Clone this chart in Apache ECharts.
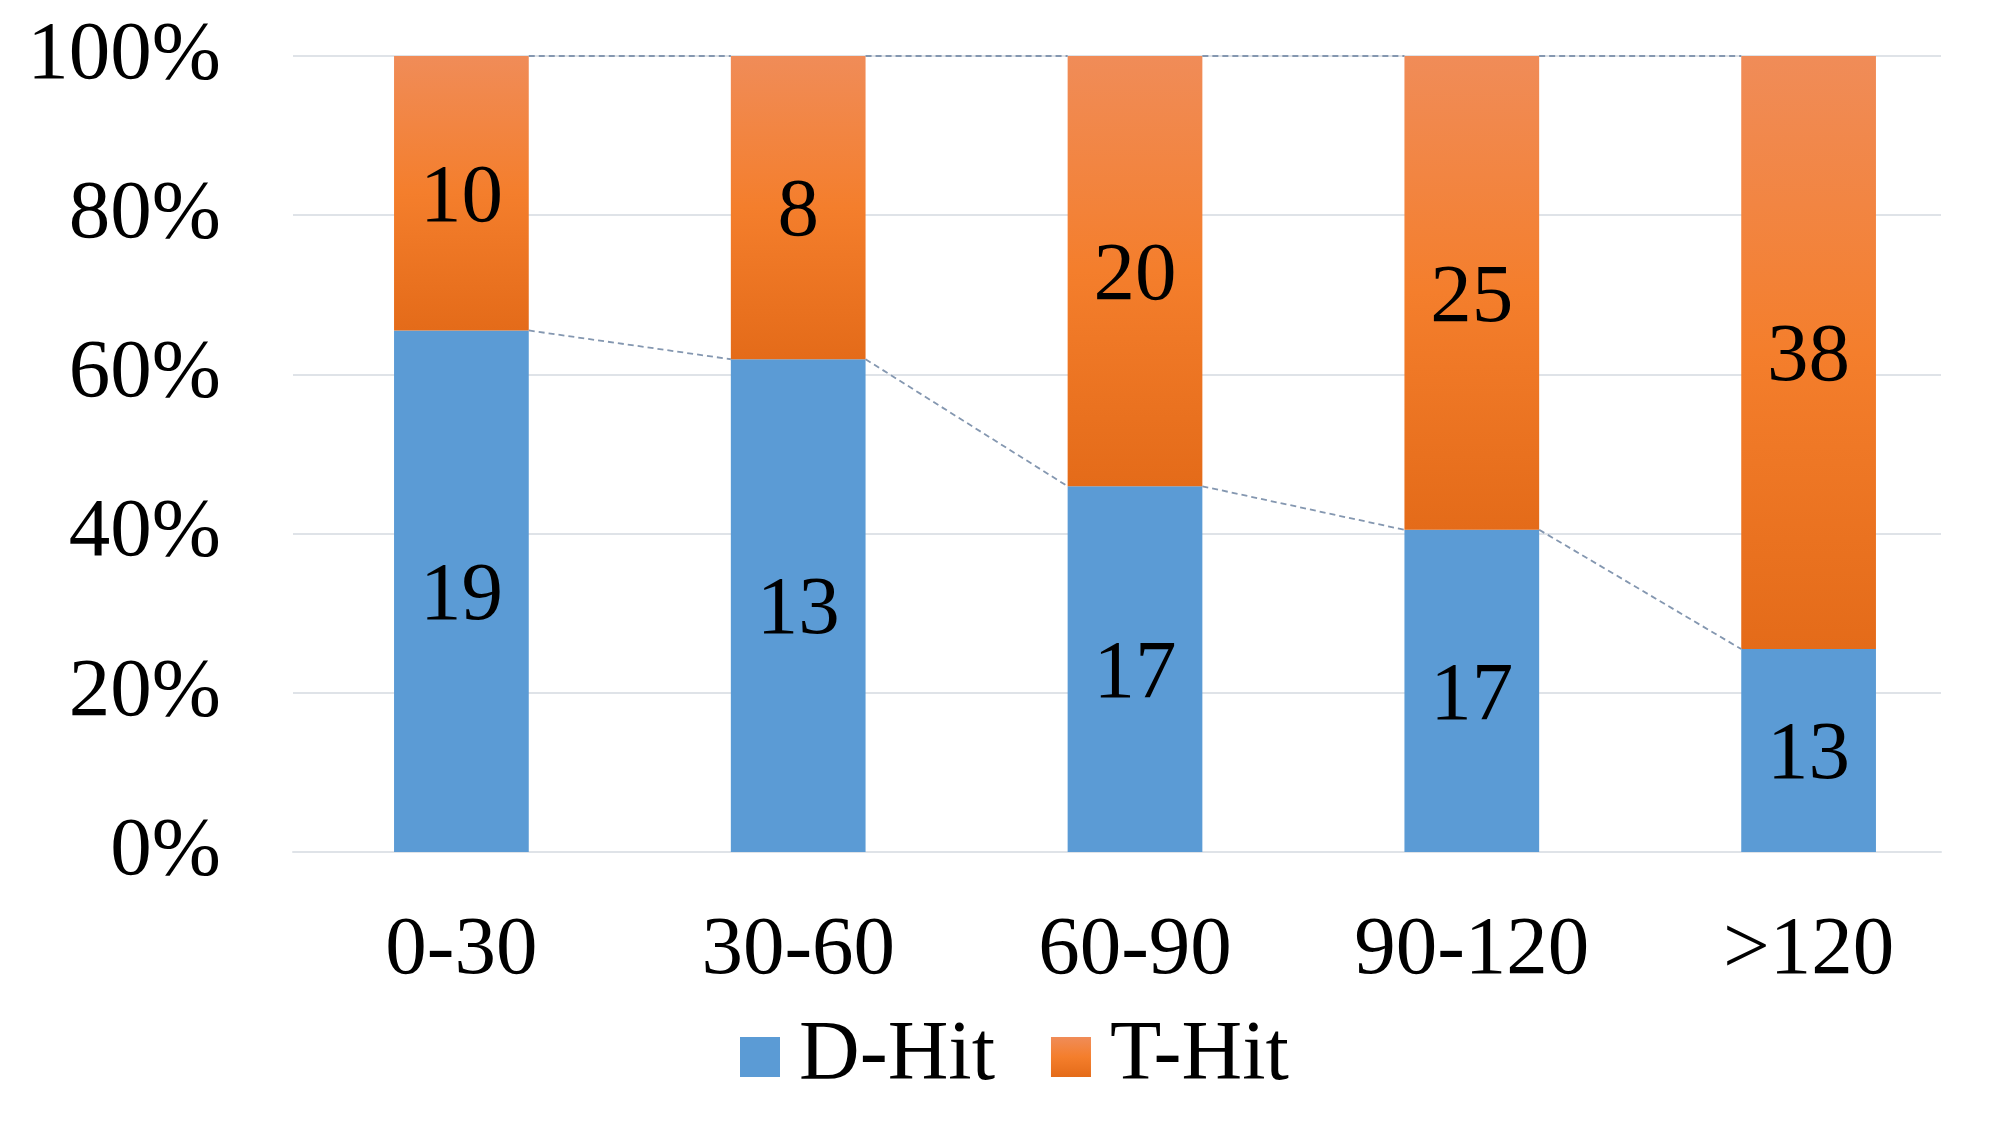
<!DOCTYPE html>
<html>
<head>
<meta charset="utf-8">
<script src="https://cdn.jsdelivr.net/npm/echarts@6/dist/echarts.min.js"></script>
<style>
  html, body { margin: 0; padding: 0; background: #fff; }
  #main { width: 2000px; height: 1125px; }
</style>
</head>
<body>
<div id="main"></div>
<script>
// 数据
const categories = ['0-30', '30-60', '60-90', '90-120', '>120'];
const dHit = [19, 13, 17, 17, 13];
const tHit = [10, 8, 20, 25, 38];
const yTicks = [0, 20, 40, 60, 80, 100];

const FONT = "'Liberation Serif', 'Times New Roman', serif";
const BAR_RATIO = 0.40;

// 百分比堆叠
const dPct = dHit.map((v, i) => v / (v + tHit[i]) * 100);
const tPct = tHit.map((v, i) => v / (dHit[i] + v) * 100);
const topPct = dPct.map((v, i) => v + tPct[i]);

// 连接线 [起点index, 起点值, 终点值]
const dLinks = [];
const tLinks = [];
for (let i = 0; i < categories.length - 1; i++) {
  dLinks.push([i, dPct[i], dPct[i + 1]]);
  tLinks.push([i, topPct[i], topPct[i + 1]]);
}

function linkRender(params, api) {
  const i = api.value(0);
  const half = api.size([1, 0])[0] * BAR_RATIO / 2;
  const p1 = api.coord([i, api.value(1)]);
  const p2 = api.coord([i + 1, api.value(2)]);
  return {
    type: 'line',
    shape: { x1: p1[0] + half, y1: p1[1], x2: p2[0] - half, y2: p2[1] },
    style: { stroke: '#8497b0', lineWidth: 1.8, lineDash: [6, 4] },
    silent: true
  };
}

const labelStyle = {
  show: true, position: 'inside', fontFamily: FONT, fontSize: 83, color: '#000', offset: [0, 6]
};

const chart = echarts.init(document.getElementById('main'));
const option = {
  animation: false,
  // grid 0: 网格线和坐标轴文字, grid 1: 柱子
  grid: [
    { left: 293, right: 59, top: 56, bottom: 273 },
    { left: 293, right: 23, top: 56, bottom: 273 }
  ],
  legend: {
    data: ['D-Hit', 'T-Hit'],
    left: 735,
    top: 1010,
    itemWidth: 40,
    itemHeight: 40,
    itemGap: 56,
    icon: 'rect',
    textStyle: { fontFamily: FONT, fontSize: 84, color: '#000', padding: [10, 0, 0, 14] }
  },
  xAxis: [
    {
      gridIndex: 0,
      type: 'category',
      data: categories,
      axisLine: { lineStyle: { color: '#dfe3e8', width: 2 } },
      axisTick: { show: false },
      axisLabel: { show: false }
    },
    {
      gridIndex: 1,
      type: 'category',
      data: categories,
      axisLine: { show: false },
      axisTick: { show: false },
      axisLabel: { fontFamily: FONT, fontSize: 83, color: '#000', margin: 58 }
    }
  ],
  yAxis: [
    {
      gridIndex: 0,
      type: 'value',
      min: yTicks[0],
      max: yTicks[yTicks.length - 1],
      interval: 20,
      axisLine: { show: false },
      axisTick: { show: false },
      splitLine: { lineStyle: { color: '#dfe3e8', width: 2 } },
      axisLabel: { fontFamily: FONT, fontSize: 83, color: '#000', margin: 72, formatter: '{value}%' }
    },
    {
      gridIndex: 1,
      type: 'value',
      min: yTicks[0],
      max: yTicks[yTicks.length - 1],
      interval: 20,
      axisLine: { show: false },
      axisTick: { show: false },
      splitLine: { show: false },
      axisLabel: { show: false }
    }
  ],
  series: [
    {
      name: 'D-Hit',
      type: 'bar',
      xAxisIndex: 1,
      yAxisIndex: 1,
      stack: 'total',
      barWidth: (BAR_RATIO * 100) + '%',
      data: dPct,
      itemStyle: { color: '#5b9bd5' },
      label: Object.assign({}, labelStyle, { formatter: p => dHit[p.dataIndex] })
    },
    {
      name: 'T-Hit',
      type: 'bar',
      xAxisIndex: 1,
      yAxisIndex: 1,
      stack: 'total',
      barWidth: (BAR_RATIO * 100) + '%',
      data: tPct,
      itemStyle: {
        color: new echarts.graphic.LinearGradient(0, 0, 0, 1, [
          { offset: 0, color: '#f08c58' },
          { offset: 0.5, color: '#f47e2c' },
          { offset: 1, color: '#e46b19' }
        ])
      },
      label: Object.assign({}, labelStyle, { formatter: p => tHit[p.dataIndex] })
    },
    { type: 'custom', xAxisIndex: 1, yAxisIndex: 1, renderItem: linkRender, data: dLinks, z: 5, silent: true },
    { type: 'custom', xAxisIndex: 1, yAxisIndex: 1, renderItem: linkRender, data: tLinks, z: 5, silent: true }
  ]
};
chart.setOption(option);
window.addEventListener('resize', () => chart.resize());
</script>
</body>
</html>
